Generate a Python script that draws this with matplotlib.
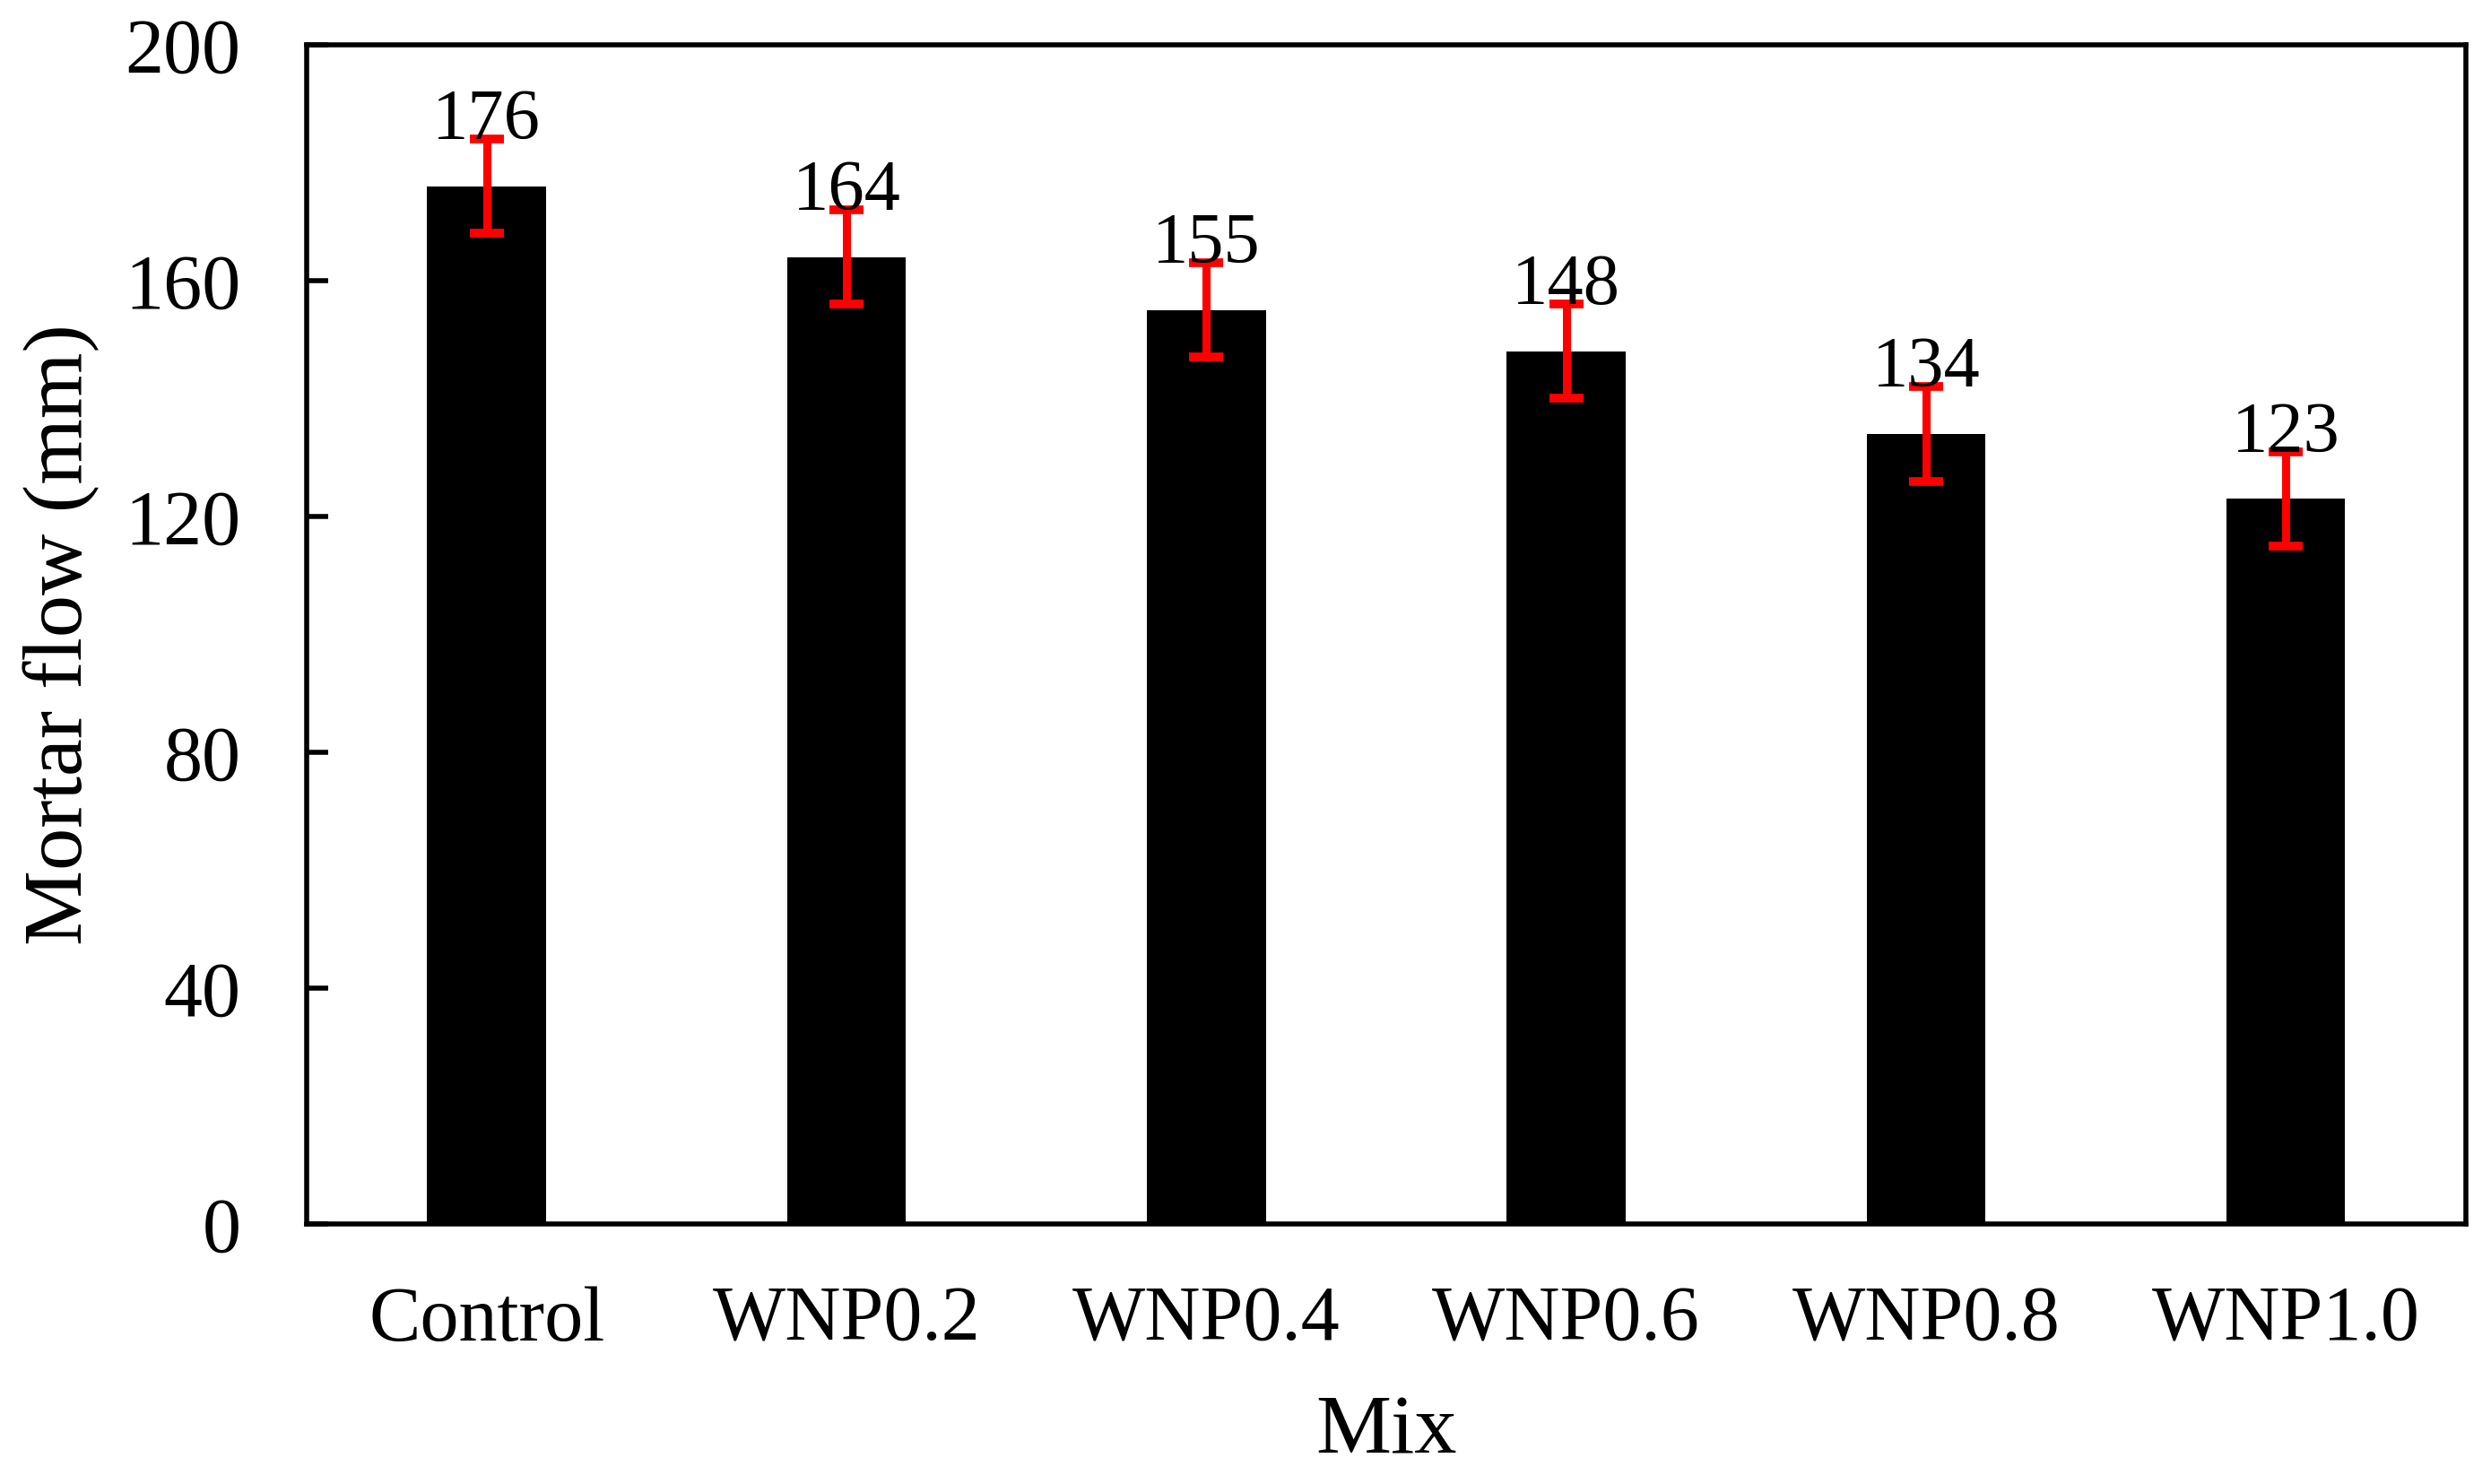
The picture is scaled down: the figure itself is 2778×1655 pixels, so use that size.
import numpy as np
import matplotlib.pyplot as plt

# data
mixes = ['Control', 'WNP0.2', 'WNP0.4', 'WNP0.6', 'WNP0.8', 'WNP1.0']
flow = [176, 164, 155, 148, 134, 123]
flow_err = [8, 8, 8, 8, 8, 8]
y_ticks = [0, 40, 80, 120, 160, 200]

plt.rcParams['font.family'] = ['Liberation Serif', 'DejaVu Serif']

fig = plt.figure(figsize=(27.78, 16.55), dpi=100)
ax = fig.add_axes([0.1231, 0.1752, 0.8668, 0.7946])

x = np.arange(len(mixes))
ax.bar(x, flow, width=0.33, color='black', zorder=2)
ax.errorbar(x, flow, yerr=flow_err, fmt='none', ecolor='red', elinewidth=6.5,
            capsize=14, capthick=7, zorder=3)

# value labels sit on top of the error bars
for xi, v, e in zip(x, flow, flow_err):
    ax.text(xi, v + e, str(v), ha='center', va='baseline', fontsize=58)

ax.set_xlim(-0.5, 5.5)
ax.set_ylim(0, 200)
ax.set_xticks(x)
ax.set_xticklabels(mixes)
ax.set_yticks(y_ticks)

ax.tick_params(axis='y', direction='in', length=17, width=4, labelsize=62, pad=53)
ax.tick_params(axis='x', length=0, labelsize=62, pad=50)
for s in ax.spines.values():
    s.set_linewidth(4)

ax.set_xlabel('Mix', fontsize=68)
ax.set_ylabel('Mortar flow (mm)', fontsize=68)
ax.xaxis.set_label_coords(0.5, -0.145)
ax.yaxis.set_label_coords(-0.096, 0.5)

fig.savefig('out.png', dpi=100)
